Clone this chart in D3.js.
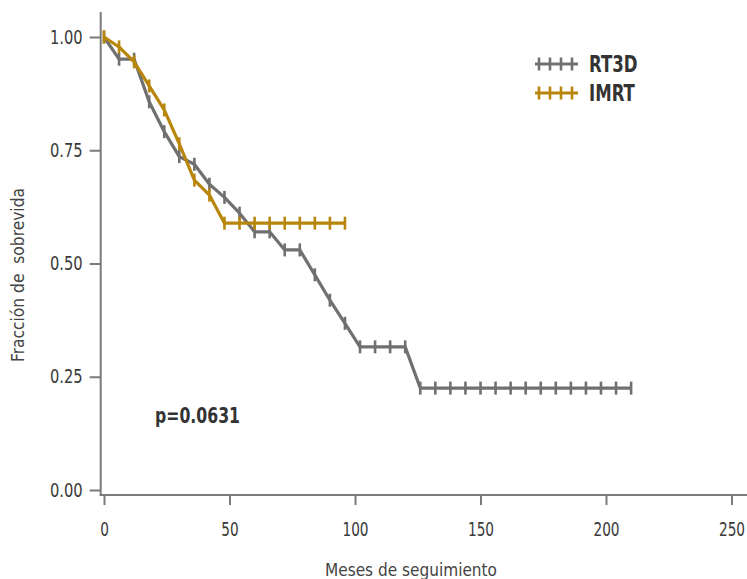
<!DOCTYPE html>
<html lang="es">
<head>
<meta charset="utf-8">
<title>Fracción de sobrevida</title>
<script src="https://d3js.org/d3.v7.min.js"></script>
<style>
  body { margin: 0; background: #fff; }
  svg text { font-family: "Liberation Sans Narrow", "DejaVu Sans Condensed", "Roboto", sans-serif; }
</style>
</head>
<body>
<div id="vis"></div>
<script>
  // survival, one point every 6 months
  const rt3dTime = [0, 6, 12, 18, 24, 30, 36, 42, 48, 54, 60, 66, 72, 78, 84, 90, 96, 102, 108, 114, 120,
                    126, 132, 138, 144, 150, 156, 162, 168, 174, 180, 186, 192, 198, 204, 210];
  const rt3dSurv = [1.00, 0.951, 0.951, 0.857, 0.791, 0.736, 0.719, 0.675, 0.646, 0.611, 0.570, 0.570, 0.530, 0.530,
                    0.475, 0.419, 0.368, 0.316, 0.316, 0.316, 0.316,
                    0.225, 0.225, 0.225, 0.225, 0.225, 0.225, 0.225, 0.225, 0.225, 0.225, 0.225, 0.225, 0.225, 0.225, 0.225];
  const imrtTime = [0, 6, 12, 18, 24, 30, 36, 42, 48, 54, 60, 66, 72, 78, 84, 90, 96];
  const imrtSurv = [1.00, 0.978, 0.945, 0.892, 0.839, 0.764, 0.684, 0.651,
                    0.589, 0.589, 0.589, 0.589, 0.589, 0.589, 0.589, 0.589, 0.589];

  const seriesNames = ['RT3D', 'IMRT'];
  const seriesColours = ['#707070', '#b8860b'];
  const xTicks = [0, 50, 100, 150, 200, 250];
  const yTicks = [0, 0.25, 0.5, 0.75, 1];
  const pValue = 'p=0.0631';

  const width = 747;
  const height = 579;
  const axisColour = '#7a7a7a';
  const textColour = '#3a3a3a';

  const x = d3.scaleLinear().domain([0, 250]).range([104, 731.5]);
  const y = d3.scaleLinear().domain([0, 1]).range([490, 37]);

  // the source uses a condensed face; squeeze the glyphs to match
  function condense(sel, factor) {
    sel.each(function () {
      const w = this.getComputedTextLength();
      d3.select(this).attr('textLength', w * factor).attr('lengthAdjust', 'spacingAndGlyphs');
    });
  }
  function fitWidth(sel, w) {
    sel.attr('textLength', w).attr('lengthAdjust', 'spacingAndGlyphs');
  }

  const svg = d3.select('#vis').append('svg')
    .attr('width', width)
    .attr('height', height);

  // axis lines sit a little outside the data area
  const xAxisY = 495;
  const yAxisX = 100.7;

  svg.append('line')
    .attr('x1', yAxisX).attr('x2', yAxisX)
    .attr('y1', 12).attr('y2', xAxisY + 1)
    .attr('stroke', axisColour).attr('stroke-width', 2);
  svg.append('line')
    .attr('x1', yAxisX - 1).attr('x2', width)
    .attr('y1', xAxisY).attr('y2', xAxisY)
    .attr('stroke', axisColour).attr('stroke-width', 2);

  const xAxis = svg.append('g')
    .attr('transform', `translate(0,${xAxisY})`)
    .call(d3.axisBottom(x).tickValues(xTicks).tickSize(10).tickPadding(18));
  const yAxis = svg.append('g')
    .attr('transform', `translate(${yAxisX},0)`)
    .call(d3.axisLeft(y).tickValues(yTicks).tickFormat(d3.format('.2f')).tickSize(11).tickPadding(7));

  [xAxis, yAxis].forEach(g => {
    g.select('.domain').remove();
    g.selectAll('.tick line').attr('stroke', axisColour).attr('stroke-width', 2);
    g.selectAll('.tick text').attr('fill', textColour).style('font-size', '19px');
  });
  xAxis.selectAll('.tick text').call(condense, 0.8);
  yAxis.selectAll('.tick text').call(condense, 0.86);

  // axis titles
  svg.append('text')
    .attr('x', 411).attr('y', 576)
    .attr('text-anchor', 'middle')
    .attr('fill', '#444')
    .style('font-size', '18px')
    .text('Meses de seguimiento')
    .call(fitWidth, 172);

  svg.append('text')
    .attr('transform', 'translate(24,275) rotate(-90)')
    .attr('text-anchor', 'middle')
    .attr('fill', '#444')
    .style('font-size', '18px')
    .style('white-space', 'pre')
    .text('Fracción de  sobrevida')
    .call(fitWidth, 174);

  // curves with a vertical mark at every point
  const series = [
    { name: seriesNames[0], colour: seriesColours[0], pts: rt3dTime.map((t, i) => [t, rt3dSurv[i]]) },
    { name: seriesNames[1], colour: seriesColours[1], pts: imrtTime.map((t, i) => [t, imrtSurv[i]]) }
  ];

  const line = d3.line().x(d => x(d[0])).y(d => y(d[1]));
  const markHalf = 6.5;

  series.forEach(s => {
    const g = svg.append('g');
    g.append('path')
      .datum(s.pts)
      .attr('d', line)
      .attr('fill', 'none')
      .attr('stroke', s.colour)
      .attr('stroke-width', 3.2)
      .attr('stroke-linejoin', 'round');
    g.selectAll('line')
      .data(s.pts)
      .enter().append('line')
      .attr('x1', d => x(d[0])).attr('x2', d => x(d[0]))
      .attr('y1', d => y(d[1]) - markHalf).attr('y2', d => y(d[1]) + markHalf)
      .attr('stroke', s.colour)
      .attr('stroke-width', 2.6);
  });

  // legend
  const legend = svg.append('g').attr('transform', 'translate(535,64)');
  series.forEach((s, i) => {
    const row = legend.append('g').attr('transform', `translate(0,${i * 29})`);
    row.append('line')
      .attr('x1', 0).attr('x2', 43).attr('y1', 0).attr('y2', 0)
      .attr('stroke', s.colour).attr('stroke-width', 3);
    row.selectAll('.mk')
      .data([4, 15, 26, 37])
      .enter().append('line')
      .attr('x1', d => d).attr('x2', d => d)
      .attr('y1', -markHalf).attr('y2', markHalf)
      .attr('stroke', s.colour).attr('stroke-width', 2.6);
    row.append('text')
      .attr('x', 54).attr('y', 8)
      .attr('fill', '#333')
      .style('font-size', '23px')
      .style('font-weight', 'bold')
      .text(s.name)
      .call(condense, 0.8);
  });

  svg.append('text')
    .attr('x', 155).attr('y', 423)
    .attr('fill', '#333')
    .style('font-size', '21px')
    .style('font-weight', 'bold')
    .text(pValue)
    .call(fitWidth, 85);
</script>
</body>
</html>
